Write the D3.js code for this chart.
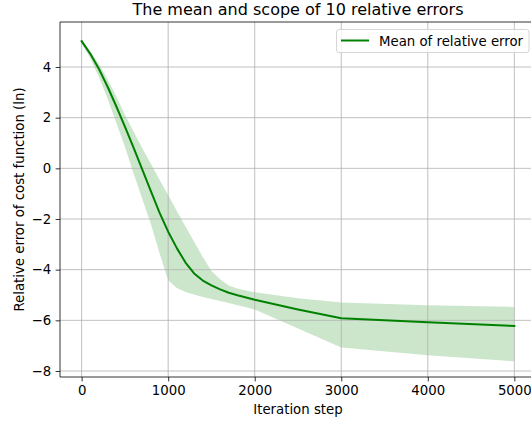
<!DOCTYPE html>
<html>
<head>
<meta charset="utf-8">
<script src="https://cdn.jsdelivr.net/npm/d3@7"></script>
<style>
  html, body { margin: 0; padding: 0; background: #fff; }
  svg { display: block; font-family: "DejaVu Sans", sans-serif; }
</style>
</head>
<body>
<svg id="chart" width="531" height="423"></svg>
<script>
// ---- data ----
const steps      = [0, 100, 200, 300, 400, 500, 600, 700, 800, 900, 1000, 1100, 1200, 1300, 1400, 1500, 1600, 1700, 1800, 1900, 2000, 2500, 3000, 4000, 5000];
const meanErr    = [5.02, 4.52, 3.92, 3.22, 2.45, 1.65, 0.82, -0.04, -0.9, -1.75, -2.5, -3.15, -3.72, -4.15, -4.43, -4.62, -4.78, -4.91, -5.01, -5.1, -5.19, -5.57, -5.92, -6.08, -6.22];
const upperErr   = [5.08, 4.62, 4.12, 3.52, 2.85, 2.12, 1.45, 0.8, 0.18, -0.45, -1.05, -1.68, -2.3, -2.9, -3.5, -4.05, -4.38, -4.62, -4.74, -4.82, -4.89, -5.13, -5.3, -5.4, -5.47];
const lowerErr   = [4.95, 4.35, 3.6, 2.75, 1.8, 0.85, -0.2, -1.2, -2.2, -3.35, -4.42, -4.72, -4.88, -4.98, -5.08, -5.16, -5.24, -5.32, -5.4, -5.48, -5.57, -6.32, -7.07, -7.38, -7.62];
const xTicks     = [0, 1000, 2000, 3000, 4000, 5000];
const yTicks     = [-8, -6, -4, -2, 0, 2, 4];
const titleText  = "The mean and scope of 10 relative errors";
const xLabelText = "Iteration step";
const yLabelText = "Relative error of cost function (ln)";
const legendText = "Mean of relative error";

const rows = steps.map((s, i) => ({ x: s, m: meanErr[i], hi: upperErr[i], lo: lowerErr[i] }));

// ---- layout ----
const L = 60, T = 22, B = 377, R = 535.97;
const svg = d3.select("#chart");
const x = d3.scaleLinear().domain([-250, 5250]).range([L, R]);
const y = d3.scaleLinear().domain([-8.237, 5.777]).range([B, T]);

const tickFont = 13.3;
const green = "#008000";

// band
svg.append("path")
  .datum(rows)
  .attr("fill", green)
  .attr("fill-opacity", 0.2)
  .attr("d", d3.area().x(d => x(d.x)).y0(d => y(d.lo)).y1(d => y(d.hi)));

// grid
const grid = svg.append("g").attr("stroke", "#b0b0b0").attr("stroke-width", 0.8);
xTicks.forEach(t => grid.append("line").attr("x1", x(t)).attr("x2", x(t)).attr("y1", T).attr("y2", B));
yTicks.forEach(t => grid.append("line").attr("x1", L).attr("x2", R).attr("y1", y(t)).attr("y2", y(t)));

// mean line
svg.append("path")
  .datum(rows)
  .attr("fill", "none")
  .attr("stroke", green)
  .attr("stroke-width", 2)
  .attr("stroke-linejoin", "round")
  .attr("stroke-linecap", "square")
  .attr("d", d3.line().x(d => x(d.x)).y(d => y(d.m)));

// axes
const xAxis = d3.axisBottom(x).tickValues(xTicks).tickFormat(d3.format("d")).tickSizeOuter(0).tickSize(4.4).tickPadding(4.4);
const yAxis = d3.axisLeft(y).tickValues(yTicks).tickFormat(d => d < 0 ? "\u2212" + Math.abs(d) : String(d)).tickSizeOuter(0).tickSize(4.4).tickPadding(4.4);

const gx = svg.append("g").attr("transform", `translate(0,${B})`).call(xAxis);
const gy = svg.append("g").attr("transform", `translate(${L},0)`).call(yAxis);
[gx, gy].forEach(g => {
  g.selectAll("path.domain").remove();
  g.selectAll("line").attr("stroke", "#000").attr("stroke-width", 0.8);
  g.selectAll("text").attr("fill", "#000").style("font-size", tickFont + "px").style("font-family", "DejaVu Sans");
});

// spines
const sp = svg.append("g").attr("stroke", "#000").attr("stroke-width", 0.8).attr("fill", "none");
sp.append("line").attr("x1", L).attr("x2", L).attr("y1", T).attr("y2", B);
sp.append("line").attr("x1", L).attr("x2", R).attr("y1", B).attr("y2", B);
sp.append("line").attr("x1", L).attr("x2", R).attr("y1", T).attr("y2", T);
sp.append("line").attr("x1", R).attr("x2", R).attr("y1", T).attr("y2", B);

// title & labels
const cx = (L + R) / 2;
svg.append("text").attr("x", cx).attr("y", 14.5).attr("text-anchor", "middle")
  .style("font-size", "16px").attr("fill", "#000").text(titleText);
svg.append("text").attr("x", cx).attr("y", 414).attr("text-anchor", "middle")
  .style("font-size", tickFont + "px").attr("fill", "#000").text(xLabelText);
svg.append("text").attr("transform", `translate(24,${(T + B) / 2}) rotate(-90)`).attr("text-anchor", "middle")
  .style("font-size", tickFont + "px").attr("fill", "#000").text(yLabelText);

// legend
const lg = svg.append("g");
lg.append("rect").attr("x", 336.5).attr("y", 29.5).attr("width", 192.5).attr("height", 23)
  .attr("rx", 2.5).attr("fill", "#fff").attr("fill-opacity", 0.8).attr("stroke", "#cccccc").attr("stroke-width", 0.8);
lg.append("line").attr("x1", 341).attr("x2", 369).attr("y1", 40.5).attr("y2", 40.5)
  .attr("stroke", green).attr("stroke-width", 2);
lg.append("text").attr("x", 379).attr("y", 45.5).style("font-size", tickFont + "px").attr("fill", "#000").text(legendText);
</script>
</body>
</html>
